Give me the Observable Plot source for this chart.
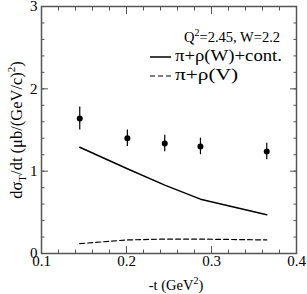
<!DOCTYPE html>
<html><head><meta charset="utf-8">
<script src="https://cdn.jsdelivr.net/npm/d3@7"></script>
<script src="https://cdn.jsdelivr.net/npm/@observablehq/plot@0.6"></script>
<style>body{margin:0;background:#fff} svg, svg text{font-family:"Liberation Serif","DejaVu Serif",serif !important}</style>
</head><body><div id="chart"></div>
<script>
const tData = [0.145, 0.201, 0.245, 0.287, 0.365];
const sigData = [1.64, 1.40, 1.335, 1.30, 1.24];
const errData = [0.14, 0.10, 0.10, 0.10, 0.10];
const tModel = [0.145, 0.201, 0.245, 0.287, 0.365];
const solidModel = [1.29, 1.03, 0.83, 0.66, 0.47];
const dashedModel = [0.12, 0.165, 0.175, 0.175, 0.165];
const xTicks = [0.1, 0.2, 0.3, 0.4];
const yTicks = [0, 1, 2, 3];

const pts = tData.map((t,i)=>({t, y:sigData[i], lo:sigData[i]-errData[i], hi:sigData[i]+errData[i]}));
const solid = tModel.map((t,i)=>({t, y:solidModel[i]}));
const dashed = tModel.map((t,i)=>({t, y:dashedModel[i]}));
const xMinor = d3.range(0.1, 0.4001, 0.02);
const yMinor = d3.range(0, 3.001, 0.2);
const none = () => "";
const FONT = '"Liberation Serif", "DejaVu Serif", serif';

const plot = Plot.plot({
  width: 307, height: 294,
  marginLeft: 41, marginRight: 11, marginTop: 6, marginBottom: 41,
  style: {fontFamily: FONT, fontSize: "15px", color: "#000", background: "#fff"},
  x: {domain: [0.1, 0.4]},
  y: {domain: [0, 3]},
  marks: [
    Plot.axisX({anchor: "bottom", ticks: xMinor, tickSize: -3.5, tickFormat: none, label: null, stroke: "#555"}),
    Plot.axisX({anchor: "top", ticks: xMinor, tickSize: -3.5, tickFormat: none, label: null, stroke: "#555"}),
    Plot.axisX({anchor: "bottom", ticks: xTicks, tickSize: -7, tickPadding: 9, tickFormat: d3.format(".1f"), fontSize: 15, label: null, stroke: "#555", fill: "#000"}),
    Plot.axisX({anchor: "top", ticks: xTicks, tickSize: -7, tickFormat: none, label: null, stroke: "#555"}),
    Plot.axisY({anchor: "left", ticks: yMinor, tickSize: -3.5, tickFormat: none, label: null, stroke: "#555"}),
    Plot.axisY({anchor: "right", ticks: yMinor, tickSize: -3.5, tickFormat: none, label: null, stroke: "#555"}),
    Plot.axisY({anchor: "left", ticks: yTicks, tickSize: -7, tickPadding: 11, tickFormat: d3.format("d"), fontSize: 15, label: null, stroke: "#555", fill: "#000"}),
    Plot.axisY({anchor: "right", ticks: yTicks, tickSize: -7, tickFormat: none, label: null, stroke: "#555"}),
    Plot.frame({stroke: "#555", strokeWidth: 1.5}),
    Plot.line(solid, {x: "t", y: "y", stroke: "#000", strokeWidth: 1.5}),
    Plot.line(dashed, {x: "t", y: "y", stroke: "#000", strokeWidth: 1.2, strokeDasharray: "5,3"}),
    Plot.ruleX(pts, {x: "t", y1: "lo", y2: "hi", stroke: "#000", strokeWidth: 1.2}),
    Plot.dot(pts, {x: "t", y: "y", r: 3, fill: "#000", stroke: null})
  ]
});
document.getElementById("chart").appendChild(plot);

const svg = d3.select(plot);
function txt(sel, size, anchor) { return sel.style("font-family", FONT).style("font-size", size + "px").attr("fill", "#000").attr("text-anchor", anchor || "start"); }
// axis labels
const xl = txt(svg.append("text"), 14.5, "middle").attr("x", 176).attr("y", 290);
xl.append("tspan").text("-t (GeV");
xl.append("tspan").attr("dy", -6).style("font-size", "10px").text("2");
xl.append("tspan").attr("dy", 6).text(")");

const yl = txt(svg.append("text"), 16.5, "middle").attr("transform", "translate(22,130) rotate(-90)");
yl.append("tspan").text("dσ");
yl.append("tspan").attr("dy", 4).style("font-size", "11px").text("T");
yl.append("tspan").attr("dy", -4).text("/dt (μb/(GeV/c)");
yl.append("tspan").attr("dy", -7).style("font-size", "11px").text("2");
yl.append("tspan").attr("dy", 7).text(")");

// legend
const q = txt(svg.append("text"), 14.5).attr("x", 184).attr("y", 42);
q.append("tspan").text("Q");
q.append("tspan").attr("dy", -6).style("font-size", "10px").text("2");
q.append("tspan").attr("dy", 6).text("=2.45, W=2.2");
svg.append("line").attr("x1", 150).attr("x2", 171).attr("y1", 57).attr("y2", 57).attr("stroke", "#000").attr("stroke-width", 1.5);
txt(svg.append("text"), 16).attr("x", 175).attr("y", 61).attr("textLength", 107).attr("lengthAdjust", "spacingAndGlyphs").text("π+ρ(W)+cont.");
svg.append("line").attr("x1", 150).attr("x2", 171).attr("y1", 76).attr("y2", 76).attr("stroke", "#000").attr("stroke-width", 1.2).attr("stroke-dasharray", "5,3");
txt(svg.append("text"), 16).attr("x", 175).attr("y", 80).attr("textLength", 63).attr("lengthAdjust", "spacingAndGlyphs").text("π+ρ(V)");
</script></body></html>
